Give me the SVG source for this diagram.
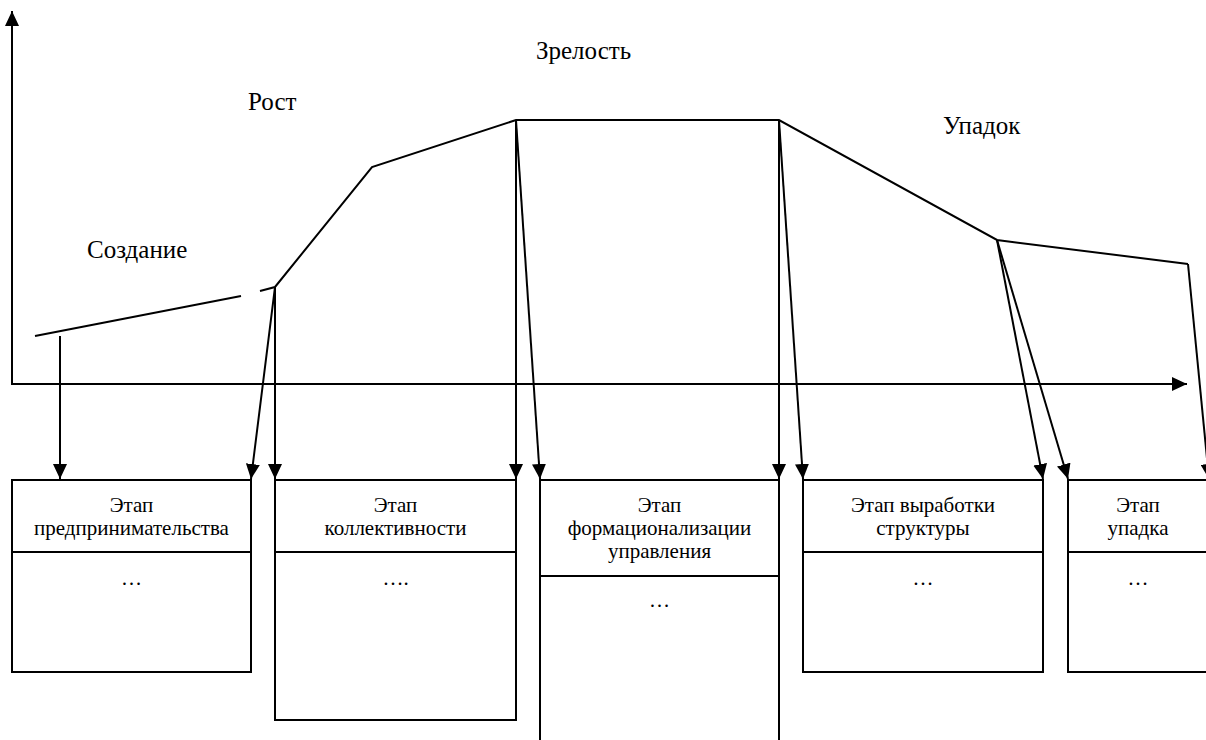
<svg xmlns="http://www.w3.org/2000/svg" width="1206" height="740" viewBox="0 0 1206 740">
<defs>
<marker id="ah" markerUnits="userSpaceOnUse" markerWidth="16" markerHeight="14" refX="15" refY="7" orient="auto">
<path d="M0,0 L15,7 L0,14 z" fill="#000"/>
</marker>
<style>
.ln{stroke:#000;stroke-width:2;fill:none}
.bx{stroke:#000;stroke-width:2;fill:#fff}
.t{font-family:'Liberation Serif','Times New Roman',serif;font-size:21px;fill:#000;text-anchor:middle}
.lb{font-family:'Liberation Serif','Times New Roman',serif;font-size:25px;fill:#000}
</style>
</defs>
<rect width="1206" height="740" fill="#fff"/>
<g id="axes">
<line class="ln" x1="12" y1="385" x2="12" y2="11" marker-end="url(#ah)"/>
<line class="ln" x1="11" y1="384" x2="1187" y2="384" marker-end="url(#ah)"/>
</g>
<g id="curve">
<line class="ln" x1="35" y1="336" x2="241" y2="296"/>
<polyline class="ln" points="260,291 275,287 372,167 516,120 779,120 997,240 1188,264"/>
</g>
<g id="labels">
<text class="lb" x="536" y="59">Зрелость</text>
<text class="lb" x="248" y="110">Рост</text>
<text class="lb" x="943" y="134">Упадок</text>
<text class="lb" x="87" y="258">Создание</text>
</g>
<g id="box1">
<rect class="bx" x="12" y="480" width="239" height="192"/>
<line class="ln" x1="12" y1="552" x2="251" y2="552"/>
<text class="t" x="131.5" y="512">Этап</text>
<text class="t" x="131.5" y="535">предпринимательства</text>
<text class="t" x="131.5" y="585">…</text>
</g>
<g id="box2">
<rect class="bx" x="275" y="480" width="241" height="240"/>
<line class="ln" x1="275" y1="552" x2="516" y2="552"/>
<text class="t" x="395.5" y="512">Этап</text>
<text class="t" x="395.5" y="535">коллективности</text>
<text class="t" x="395.5" y="585">….</text>
</g>
<g id="box3">
<rect class="bx" x="540" y="480" width="239" height="270"/>
<line class="ln" x1="540" y1="576" x2="779" y2="576"/>
<text class="t" x="659.5" y="512">Этап</text>
<text class="t" x="659.5" y="535">формационализации</text>
<text class="t" x="659.5" y="558">управления</text>
<text class="t" x="659.5" y="607">…</text>
</g>
<g id="box4">
<rect class="bx" x="803" y="480" width="240" height="192"/>
<line class="ln" x1="803" y1="552" x2="1043" y2="552"/>
<text class="t" x="923" y="512">Этап выработки</text>
<text class="t" x="923" y="535">структуры</text>
<text class="t" x="923" y="585">…</text>
</g>
<g id="box5">
<rect class="bx" x="1068" y="480" width="142" height="192"/>
<line class="ln" x1="1068" y1="552" x2="1210" y2="552"/>
<text class="t" x="1138" y="512">Этап</text>
<text class="t" x="1138" y="535">упадка</text>
<text class="t" x="1138" y="585">…</text>
</g>
<g id="connectors">
<line class="ln" x1="60" y1="336" x2="60" y2="479" marker-end="url(#ah)"/>
<line class="ln" x1="275" y1="287" x2="251" y2="479" marker-end="url(#ah)"/>
<line class="ln" x1="275" y1="287" x2="275" y2="479" marker-end="url(#ah)"/>
<line class="ln" x1="516" y1="120" x2="516" y2="479" marker-end="url(#ah)"/>
<line class="ln" x1="516" y1="120" x2="540" y2="479" marker-end="url(#ah)"/>
<line class="ln" x1="779" y1="120" x2="779" y2="479" marker-end="url(#ah)"/>
<line class="ln" x1="779" y1="120" x2="803" y2="479" marker-end="url(#ah)"/>
<line class="ln" x1="997" y1="240" x2="1043" y2="479" marker-end="url(#ah)"/>
<line class="ln" x1="997" y1="240" x2="1068" y2="479" marker-end="url(#ah)"/>
<line class="ln" x1="1188" y1="264" x2="1209" y2="479" marker-end="url(#ah)"/>
</g>
</svg>
